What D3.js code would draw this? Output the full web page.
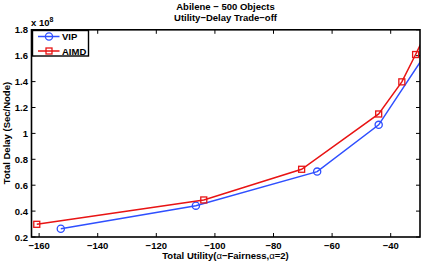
<!DOCTYPE html>
<html>
<head>
<meta charset="utf-8">
<script src="https://cdn.jsdelivr.net/npm/d3@7"></script>
<style>
body{margin:0;background:#fff;}
svg{display:block;font-family:"Liberation Sans",Arial,sans-serif;font-weight:bold;}
</style>
</head>
<body>
<svg id="svg" width="421" height="262"></svg>
<script>
// utility (x) vs delay (y, x 1e8)
var vipX = [-152.6, -106.5, -65.1, -44.1, -25];
var vipY = [0.264, 0.442, 0.705, 1.066, 1.72];
var aimdX = [-160.8, -103.8, -70.4, -44.1, -36.2, -31.5, -27];
var aimdY = [0.298, 0.486, 0.723, 1.15, 1.398, 1.609, 1.82];
var xTicks = [-160, -140, -120, -100, -80, -60, -40];
var yTicks = [0.2, 0.4, 0.6, 0.8, 1, 1.2, 1.4, 1.6, 1.8];
var series = [
	{name:"VIP", xs:vipX, ys:vipY, color:"#2f4fff", marker:"circle"},
	{name:"AIMD", xs:aimdX, ys:aimdY, color:"#e81414", marker:"square"}
];

var svg = d3.select("#svg");
var pL = 31.5, pR = 420, pT = 29.8, pB = 237;

var x = d3.scaleLinear().domain([-162.6, -30]).range([pL, pR]);
var y = d3.scaleLinear().domain([0.2, 1.8]).range([pB, pT]);

svg.append("clipPath").attr("id","clip")
	.append("rect").attr("x",pL).attr("y",pT).attr("width",pR-pL).attr("height",pB-pT);

// ticks, pointing inwards, on all four sides
var tl = 4;
var g = svg.append("g").attr("stroke","#000").attr("stroke-width",1);
xTicks.forEach(function(v){
	g.append("line").attr("x1",x(v)).attr("x2",x(v)).attr("y1",pB).attr("y2",pB-tl);
	g.append("line").attr("x1",x(v)).attr("x2",x(v)).attr("y1",pT).attr("y2",pT+tl);
});
yTicks.forEach(function(v){
	g.append("line").attr("y1",y(v)).attr("y2",y(v)).attr("x1",pL).attr("x2",pL+tl);
	g.append("line").attr("y1",y(v)).attr("y2",y(v)).attr("x1",pR).attr("x2",pR-tl);
});

svg.append("g").selectAll("text").data(xTicks).enter().append("text")
	.attr("x",function(d){return x(d);}).attr("y",249)
	.attr("text-anchor","middle").attr("font-size",9.5)
	.text(function(d){return String(d).replace("-","\u2212");});

svg.append("g").selectAll("text").data(yTicks).enter().append("text")
	.attr("x",28).attr("y",function(d){return y(d)+3.5;})
	.attr("text-anchor","end").attr("font-size",9.5)
	.text(function(d){return d;});

// lines + markers
var plot = svg.append("g").attr("clip-path","url(#clip)");
var line = d3.line().x(function(d){return x(d[0]);}).y(function(d){return y(d[1]);});
series.forEach(function(s){
	var pts = s.xs.map(function(v,i){return [v, s.ys[i]];});
	plot.append("path").datum(pts).attr("d",line)
		.attr("fill","none").attr("stroke",s.color).attr("stroke-width",1.5);
	if(s.marker=="circle"){
		plot.selectAll(null).data(pts).enter().append("circle")
			.attr("cx",function(d){return x(d[0]);}).attr("cy",function(d){return y(d[1]);})
			.attr("r",3.6).attr("fill","none").attr("stroke",s.color).attr("stroke-width",1.3);
	}else{
		plot.selectAll(null).data(pts).enter().append("rect")
			.attr("x",function(d){return x(d[0])-3;}).attr("y",function(d){return y(d[1])-3;})
			.attr("width",6).attr("height",6).attr("fill","none").attr("stroke",s.color).attr("stroke-width",1.3);
	}
});

// frame
svg.append("rect").attr("x",pL).attr("y",pT).attr("width",pR-pL).attr("height",pB-pT)
	.attr("fill","none").attr("stroke","#000").attr("stroke-width",1.6);

// legend
var lg = svg.append("g");
lg.append("rect").attr("x",32.5).attr("y",30.5).attr("width",56).attr("height",25.5)
	.attr("fill","#fff").attr("stroke","#000").attr("stroke-width",1.4);
series.forEach(function(s,i){
	var ly = 36.5 + i*14.5;
	lg.append("line").attr("x1",38).attr("x2",59.5).attr("y1",ly).attr("y2",ly)
		.attr("stroke",s.color).attr("stroke-width",1.5);
	if(s.marker=="circle"){
		lg.append("circle").attr("cx",49).attr("cy",ly).attr("r",3.6)
			.attr("fill","none").attr("stroke",s.color).attr("stroke-width",1.3);
	}else{
		lg.append("rect").attr("x",46).attr("y",ly-3).attr("width",6).attr("height",6)
			.attr("fill","none").attr("stroke",s.color).attr("stroke-width",1.3);
	}
	lg.append("text").attr("x",62).attr("y",ly+3.5).attr("font-size",9.5).text(s.name);
});

// titles and labels
svg.append("text").attr("x",225.5).attr("y",10).attr("text-anchor","middle").attr("font-size",9.5)
	.text("Abilene \u2212 500 Objects");
svg.append("text").attr("x",225.5).attr("y",21).attr("text-anchor","middle").attr("font-size",9.5)
	.text("Utility\u2212Delay Trade\u2212off");

var ex = svg.append("text").attr("x",31).attr("y",26).attr("font-size",9.5);
ex.append("tspan").text("x 10");
ex.append("tspan").attr("dy",-4).attr("font-size",7).text("8");

var xl = svg.append("text").attr("x",225.5).attr("y",259).attr("text-anchor","middle").attr("font-size",9.5);
xl.append("tspan").text("Total Utility(");
xl.append("tspan").attr("font-weight","normal").text("\u03b1");
xl.append("tspan").text("\u2212Fairness,");
xl.append("tspan").attr("font-weight","normal").text("\u03b1");
xl.append("tspan").text("=2)");

svg.append("text").attr("transform","translate(10,133) rotate(-90)")
	.attr("text-anchor","middle").attr("font-size",9.5).text("Total Delay (Sec/Node)");
</script>
</body>
</html>
